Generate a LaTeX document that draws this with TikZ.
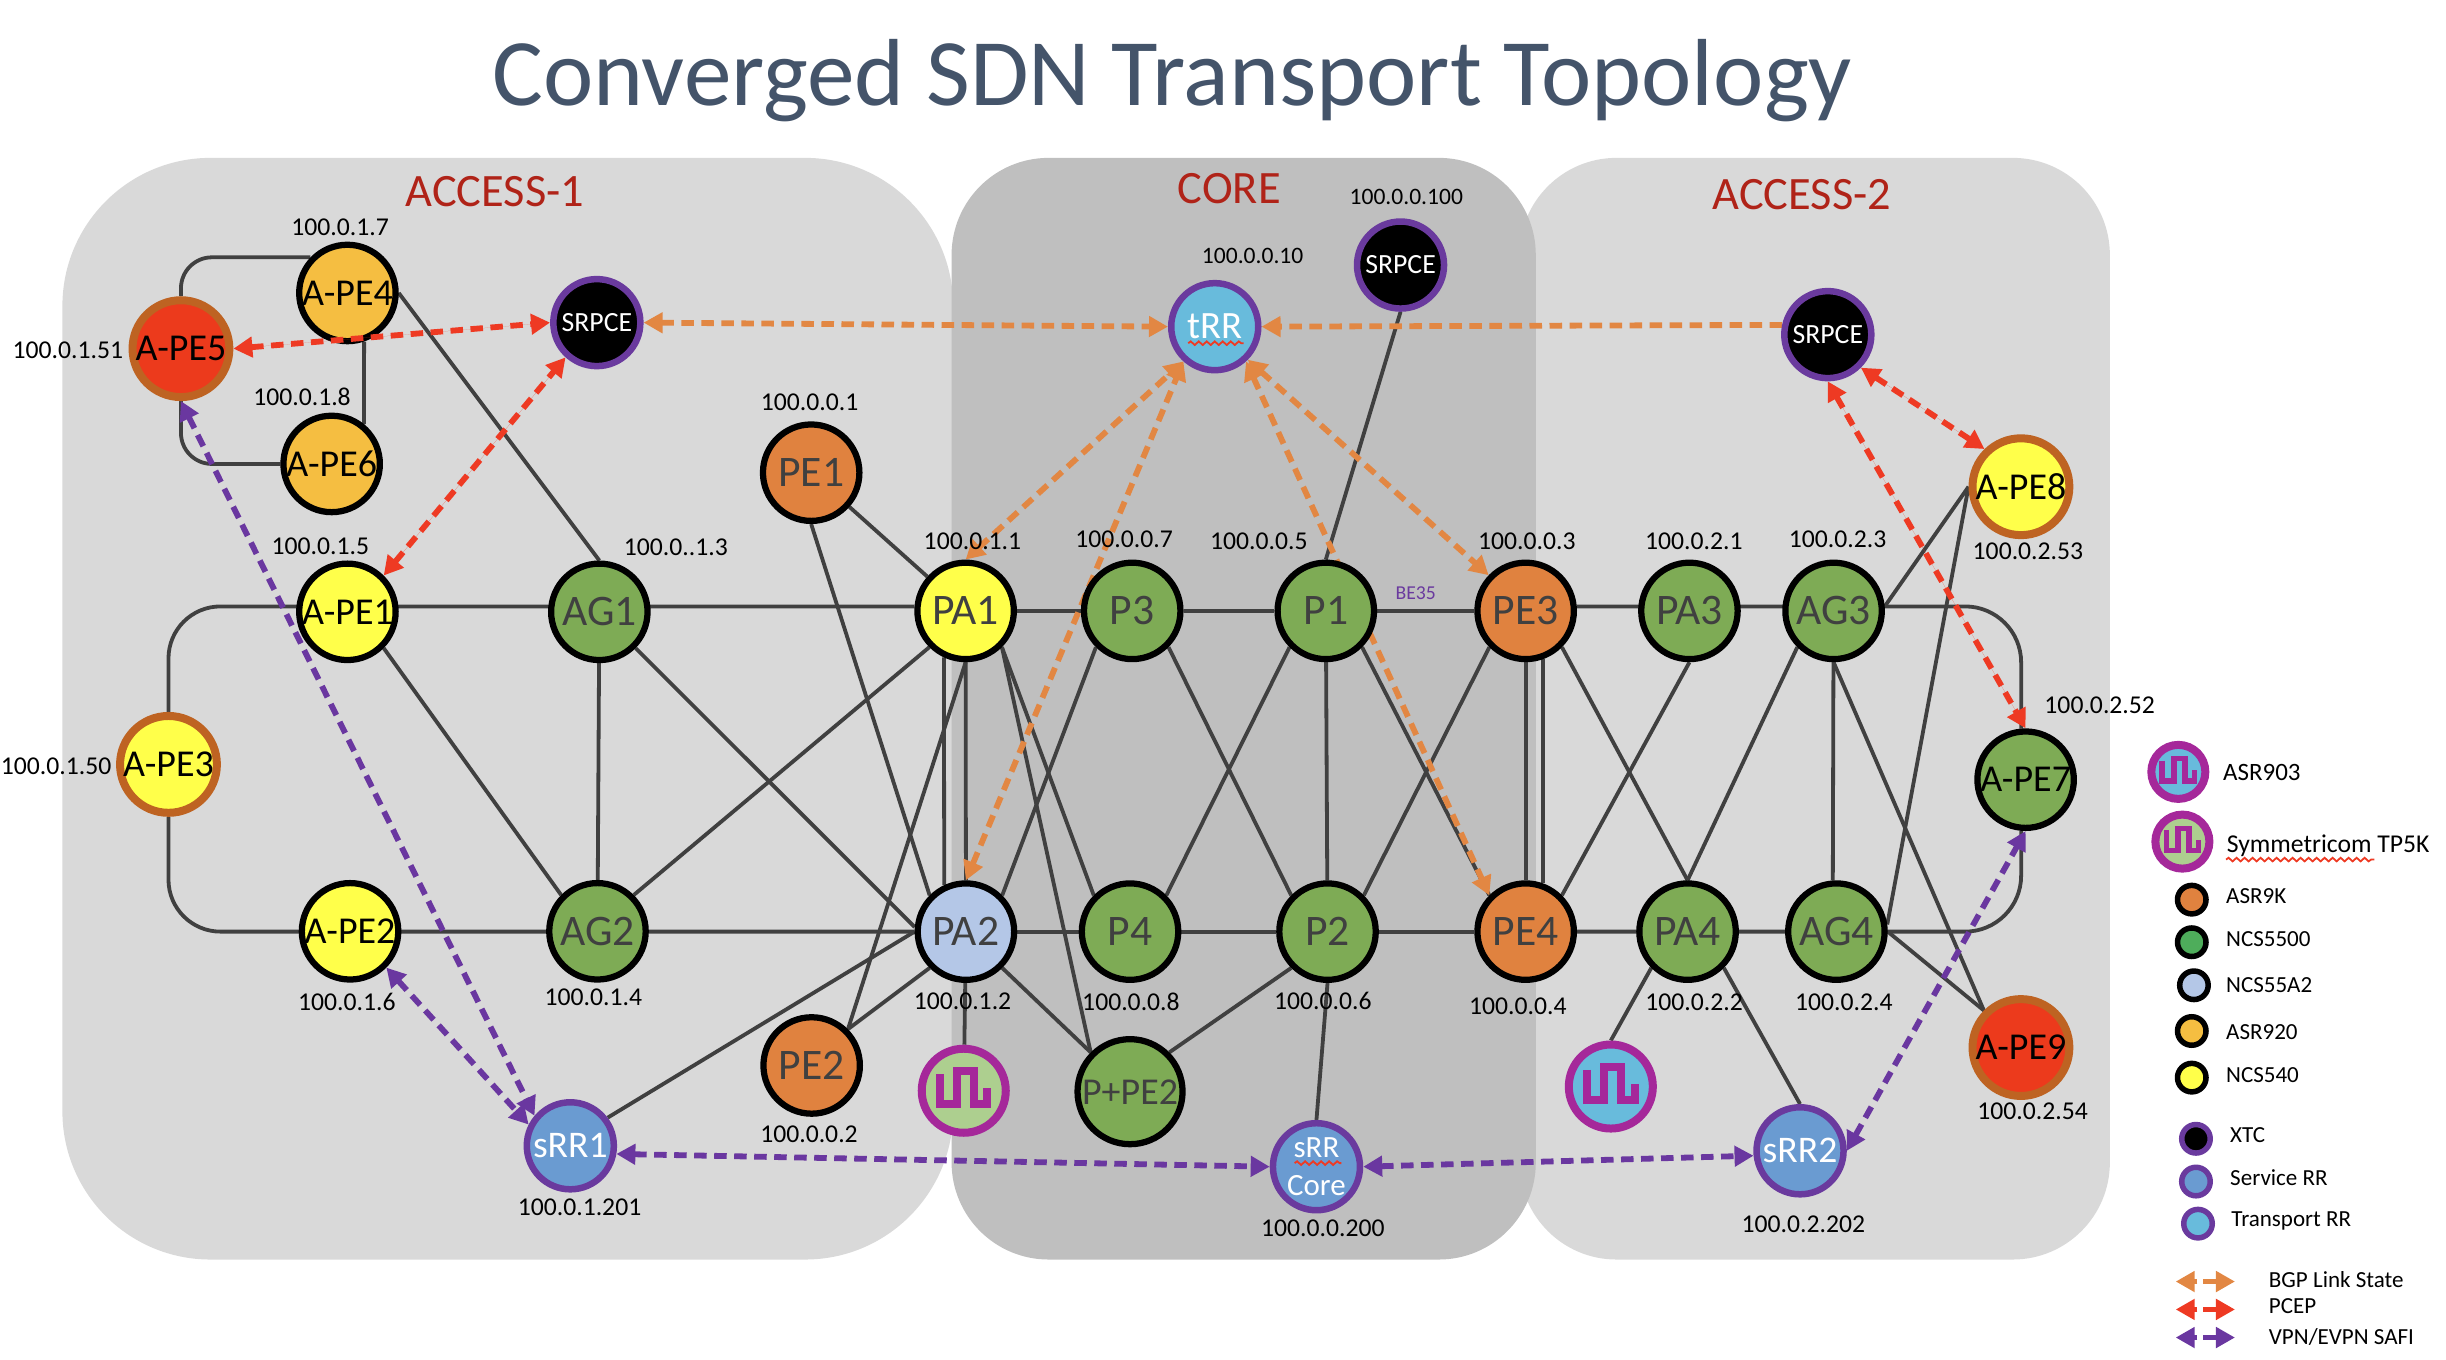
\documentclass[tikz,border=0pt]{standalone}
\usepackage{fontspec}
\setmainfont{Carlito}
\usepackage{xcolor}
\usetikzlibrary{arrows.meta,decorations.pathmorphing}
\definecolor{wire}{HTML}{404040}
\definecolor{panelA}{HTML}{D9D9D9}
\definecolor{panelC}{HTML}{BFBFBF}
\definecolor{headcol}{HTML}{44546A}
\definecolor{zonecol}{HTML}{B02318}
\definecolor{ngreen}{HTML}{7EAB55}
\definecolor{norange}{HTML}{E0823F}
\definecolor{nyellow}{HTML}{FFFF4A}
\definecolor{namber}{HTML}{F5BE41}
\definecolor{nred}{HTML}{EC3A1C}
\definecolor{nbrown}{HTML}{BE6322}
\definecolor{nsteel}{HTML}{B4C7E7}
\definecolor{nblue}{HTML}{6A9BD1}
\definecolor{ncyan}{HTML}{68BBDC}
\definecolor{npurple}{HTML}{6A3A9E}
\definecolor{nmagenta}{HTML}{A5289A}
\definecolor{nlime}{HTML}{ADCF8F}
\definecolor{nmint}{HTML}{4EAD5B}
\definecolor{dorange}{HTML}{E28743}
\definecolor{dred}{HTML}{EE3A23}
\definecolor{dpurple}{HTML}{6A37A0}
\pgfdeclarelayer{panels}
\pgfdeclarelayer{links}
\pgfsetlayers{panels,links,main}
\newcommand{\clockwave}[3]{\draw [nmagenta,line width=#3,shift={(#1)},scale=#2] (-15.2,-10.7) -- (-15.2,8.5) -- (-4.3,8.5) -- (-4.3,-12.4) -- (6.3,-12.4) -- (6.3,8.5) -- (15.2,8.5) -- (15.2,-1.5);}

\begin{document}
\begin{tikzpicture}[x=0.0156cm,y=-0.0156cm]
\tikzstyle{every node}+=[inner sep=0pt]
\tikzstyle{router}=[circle,draw=black,line width=0.0625cm,minimum size=0.964cm,text=wire,font=\fontsize{12.4}{13}\selectfont]
\tikzstyle{greenr}=[router,fill=ngreen]
\tikzstyle{oranger}=[router,fill=norange]
\tikzstyle{yellowr}=[router,fill=nyellow]
\tikzstyle{steelr}=[router,fill=nsteel]
\tikzstyle{small}=[text=black,font=\fontsize{10.8}{11}\selectfont]
\tikzstyle{edger}=[small,line width=0.08cm,draw=nbrown,minimum size=0.968cm]
\tikzstyle{rr}=[circle,draw=npurple,line width=0.065cm,minimum size=0.87cm,text=white,font=\fontsize{10.7}{11}\selectfont]
\tikzstyle{xtc}=[rr,fill=black,font=\fontsize{7.9}{9}\selectfont]
\tikzstyle{clock}=[circle,draw=nmagenta,line width=0.08cm,minimum size=0.84cm]
\tikzstyle{keyclock}=[circle,draw=nmagenta,line width=0.08cm,minimum size=0.54cm]
\tikzstyle{keydot}=[circle,draw=black,line width=0.055cm,minimum size=0.285cm]
\tikzstyle{keyrr}=[keydot,draw=npurple]
\tikzstyle{ipaddr}=[text=black,font=\fontsize{7.3}{8}\selectfont]
\tikzstyle{ipsmall}=[text=black,font=\fontsize{6.7}{8}\selectfont]
\tikzstyle{zone}=[text=zonecol,font=\fontsize{13.2}{14}\selectfont]
\tikzstyle{keytext}=[anchor=west,text=black,font=\fontsize{6.55}{7}\selectfont]
\tikzstyle{lnk}=[draw=wire,line width=0.038cm]
\tikzstyle{bgp}=[draw=dorange,line width=0.058cm,dash pattern=on 0.125cm off 0.075cm,>={Triangle[length=0.19cm,width=0.2cm]}]
\tikzstyle{pcep}=[bgp,draw=dred,fill=dred]
\tikzstyle{safi}=[bgp,draw=dpurple]
\tikzstyle{keybar}=[line width=0.055cm,>={Triangle[length=0.19cm,width=0.2cm]}]
\tikzstyle{spell}=[draw=dred,line width=0.018cm,decorate,decoration={snake,amplitude=0.018cm,segment length=0.08cm}]
\useasboundingbox (0,0) rectangle (1568,871.8);
\begin{pgfonlayer}{panels}
\fill [panelA,rounded corners=1.48cm] (40,101.2) rectangle (611,807.4);
\fill [panelA,rounded corners=0.97cm] (974,101.2) rectangle (1352.5,807.4);
\fill [panelC,rounded corners=0.97cm] (610,101.2) rectangle (984.5,807.4);
\end{pgfonlayer}
\draw (751.5,51.5) node [text=headcol,font=\fontsize{27.1}{30}\selectfont] (heading) {Converged SDN Transport Topology};
\draw (317.2,122.5) node [zone] (zoneA) {ACCESS-1};
\draw (788,121.1) node [zone] (zoneC) {CORE};
\draw (1155,124.5) node [zone] (zoneB) {ACCESS-2};
\draw (222.7,187.8) node [router,small,fill=namber] (APE4) {A-PE4};
\draw (116,223.5) node [router,edger,fill=nred] (APE5) {A-PE5};
\draw (212.6,297.4) node [router,small,fill=namber] (APE6) {A-PE6};
\draw (382.6,206.8) node [xtc] (SRPleft) {SRPCE};
\draw (222.7,392.2) node [router,small,fill=nyellow] (APE1) {A-PE1};
\draw (384.2,392.2) node [greenr] (AG1) {AG1};
\draw (108,490) node [router,edger,fill=nyellow] (APE3) {A-PE3};
\draw (224.4,597) node [router,small,fill=nyellow] (APE2) {A-PE2};
\draw (383,597) node [greenr] (AG2) {AG2};
\draw (520,303) node [oranger] (PE1) {PE1};
\draw (520.3,683) node [oranger] (PE2) {PE2};
\draw (619,391.6) node [yellowr] (PA1) {PA1};
\draw (725.8,391.6) node [greenr] (P3) {P3};
\draw (849.9,391.6) node [greenr] (P1) {P1};
\draw (978,391.6) node [oranger] (PE3) {PE3};
\draw (1083,391.6) node [greenr] (PA3) {PA3};
\draw (1175.4,391.6) node [greenr] (AG3) {AG3};
\draw (619.2,597.2) node [steelr] (PA2) {PA2};
\draw (724.4,597.2) node [greenr] (P4) {P4};
\draw (851,597.2) node [greenr] (P2) {P2};
\draw (978,597.2) node [oranger] (PE4) {PE4};
\draw (1081.8,597.2) node [greenr] (PA4) {PA4};
\draw (1177.2,597.2) node [greenr] (AG4) {AG4};
\draw (724.4,699.8) node [router,small,fill=ngreen,text=wire,minimum size=1.05cm] (PPE2) {P+PE2};
\draw (1295.5,312) node [router,edger,fill=nyellow] (APE8) {A-PE8};
\draw (1298.5,499.8) node [router,small,fill=ngreen] (APE7) {A-PE7};
\draw (1295.5,671.5) node [router,edger,fill=nred] (APE9) {A-PE9};
\draw (778.7,209.4) node [rr,fill=ncyan,font=\fontsize{11}{12}\selectfont] (tRR) {tRR};
\draw (897.8,169.9) node [xtc] (SRPtop) {SRPCE};
\draw (1171.7,214.5) node [xtc] (SRPright) {SRPCE};
\draw (365.6,734.5) node [rr,fill=nblue] (sRRone) {sRR1};
\draw (843.9,747.9) node [rr,fill=nblue,align=center,font=\fontsize{8.8}{11}\selectfont] (sRRcore) {sRR\\Core};
\draw (1153.9,737.7) node [rr,fill=nblue] (sRRtwo) {sRR2};
\draw (617.8,699.2) node [clock,fill=nlime] (clockA) {};
\draw (1032.6,696.5) node [clock,fill=ncyan] (clockB) {};
\clockwave{clockA}{1}{0.08cm}
\clockwave{clockB}{1}{0.08cm}
\draw [spell] ([shift={(-17,10.6)}]tRR.center) -- ([shift={(18.5,10.6)}]tRR.center);
\draw [spell] ([shift={(-14,-2.3)}]sRRcore.center) -- ([shift={(16,-2.3)}]sRRcore.center);
\draw (218,145.4) node [ipaddr] (ipAPE4) {100.0.1.7};
\draw (43.5,224.7) node [ipaddr] (ipAPE5) {100.0.1.51};
\draw (193.6,254.5) node [ipaddr] (ipAPE6) {100.0.1.8};
\draw (205.4,350.3) node [ipaddr] (ipAPE1) {100.0.1.5};
\draw (433.3,350.9) node [ipaddr] (ipAG1) {100.0..1.3};
\draw (36,491) node [ipaddr] (ipAPE3) {100.0.1.50};
\draw (222.4,642.5) node [ipaddr] (ipAPE2) {100.0.1.6};
\draw (380.4,639.6) node [ipaddr] (ipAG2) {100.0.1.4};
\draw (519,258) node [ipaddr] (ipPE1) {100.0.0.1};
\draw (518.6,727) node [ipaddr] (ipPE2) {100.0.0.2};
\draw (371.5,773.7) node [ipaddr] (ipsRRone) {100.0.1.201};
\draw (623.4,346.7) node [ipaddr] (ipPA1) {100.0.1.1};
\draw (720.6,345.8) node [ipaddr] (ipPthree) {100.0.0.7};
\draw (807,347) node [ipaddr] (ipPone) {100.0.0.5};
\draw (978.8,346.7) node [ipaddr] (ipPE3) {100.0.0.3};
\draw (803,164) node [ipsmall] (iptRR) {100.0.0.10};
\draw (901.5,126) node [ipsmall] (ipSRPtop) {100.0.0.100};
\draw (617,642) node [ipaddr] (ipPA2) {100.0.1.2};
\draw (725,642) node [ipaddr] (ipPfour) {100.0.0.8};
\draw (848,641.7) node [ipaddr] (ipPtwo) {100.0.0.6};
\draw (973,645) node [ipaddr] (ipPE4) {100.0.0.4};
\draw (848,787.3) node [ipaddr] (ipsRRcore) {100.0.0.200};
\draw (1085.8,346.7) node [ipaddr] (ipPA3) {100.0.2.1};
\draw (1178,345.8) node [ipaddr] (ipAG3) {100.0.2.3};
\draw (1300,353.3) node [ipaddr] (ipAPE8) {100.0.2.53};
\draw (1346,452) node [ipaddr] (ipAPE7) {100.0.2.52};
\draw (1086,642.4) node [ipaddr] (ipPA4) {100.0.2.2};
\draw (1182,642.4) node [ipaddr] (ipAG4) {100.0.2.4};
\draw (1303,712.4) node [ipaddr] (ipAPE9) {100.0.2.54};
\draw (1156,784.8) node [ipaddr] (ipsRRtwo) {100.0.2.202};
\draw (907.5,380) node [text=npurple,font=\fontsize{5.6}{6}\selectfont] (bundle) {BE35};
\begin{pgfonlayer}{links}
\draw [lnk,rounded corners=0.31cm] (APE5.north) |- (APE4.136);
\draw [lnk,rounded corners=0.31cm] (APE5.south) |- (APE6.west);
\draw [lnk] (APE4.-71) -- (APE6.51);
\draw [lnk] (APE4.east) -- (AG1.north);
\draw [lnk,rounded corners=0.52cm] (APE3.north) |- (PA1.175);
\draw [lnk,rounded corners=0.52cm] (APE3.south) |- (PA2.west);
\draw [lnk] (APE1.-45) -- (AG2.135);
\draw [lnk] (AG1) -- (AG2);
\draw [lnk] (AG1.-45) -- (PA2.175);
\draw [lnk] (AG2.45) -- (PA1.225);
\draw [lnk] (PE1) -- (PA1);
\draw [lnk] (PE1.south) -- (PA2.135);
\draw [lnk] (PE2.45) -- (PA1.south);
\draw [lnk] (PE2.45) -- (PA2.225);
\draw [lnk] (sRRone.37) -- (PA2.west);
\draw [lnk] (PA1.245) -- (PA2.115);
\draw [lnk] (PA1.south) -- (PA2.north);
\draw [lnk] (PA1.-45) -- (P4.135);
\draw [lnk] (PA1.-45) -- (PPE2.135);
\draw [lnk] (PA2.-45) -- (PPE2.135);
\draw [lnk] (PA2.45) -- (P3.225);
\draw [lnk] (PA1) -- (P3);
\draw [lnk] (P3) -- (P1);
\draw [lnk] (P1) -- (PE3);
\draw [lnk] (PA2) -- (P4);
\draw [lnk] (P4) -- (P2);
\draw [lnk] (P2) -- (PE4);
\draw [lnk] (P3.-45) -- (P2.135);
\draw [lnk] (P1.225) -- (P4.45);
\draw [lnk] (P1) -- (P2);
\draw [lnk] (P1.-45) -- (PE4.135);
\draw [lnk] (PE3.225) -- (P2.45);
\draw [lnk] (PE3) -- (PE4);
\draw [lnk] (PE3.-70) -- (PE4.70);
\draw [lnk] (P2.225) -- (PPE2.45);
\draw [lnk] (PA2) -- (clockA);
\draw [lnk] (P2.south) -- (sRRcore.north);
\draw [lnk] (P1.north) -- (SRPtop.south);
\draw [lnk,rounded corners=0.56cm] (PE3.5) -| (APE7.95);
\draw [lnk,rounded corners=0.56cm] (PE4.east) -| (APE7.-95);
\draw [lnk] (PE3.-45) -- (PA4.north);
\draw [lnk] (PE4.45) -- (PA3.south);
\draw [lnk] (AG3.225) -- (PA4.north);
\draw [lnk] (AG3) -- (AG4.94);
\draw [lnk] (AG3.south) -- (APE9.135);
\draw [lnk] (AG4.east) -- (APE9.135);
\draw [lnk] (AG3.5) -- (APE8.west);
\draw [lnk] (AG4.8) -- (APE8.west);
\draw [lnk] (PA4.225) -- (clockB.north);
\draw [lnk] (PA4.-45) -- (sRRtwo.north);
\draw [bgp,<->] (SRPleft.east) -- (tRR.west);
\draw [bgp,->] (SRPright.168) -- (tRR.east);
\draw [bgp,<->] (PA1.north) -- (tRR.228);
\draw [bgp,<->] (PA2.north) -- (tRR.228);
\draw [bgp,<->] (tRR.-48) -- (PE4.135);
\draw [bgp,<->] (tRR.-45) -- (PE3.136);
\draw [pcep,<->] (APE1.45) -- (SRPleft.228);
\draw [pcep,<->] (SRPright.-45) -- (APE8.134);
\draw [pcep,<->] (SRPright.south) -- (APE7.north);
\draw [safi,<->] (APE5.south) -- (sRRone.140);
\draw [safi,<->] (APE2.-45) -- (sRRone.153);
\draw [safi,<->] (sRRone.-10) -- (sRRcore.west);
\draw [safi,<->] (sRRcore.east) -- (sRRtwo.186);
\draw [safi,<->] (sRRtwo.east) -- (APE7.south);
\end{pgfonlayer}
\draw [pcep,<->] (APE5.east) -- (SRPleft.west);
\draw (1396.4,494.8) node [keyclock,fill=ncyan] (keyA) {};
\draw (1399,539.5) node [keyclock,fill=nlime] (keyB) {};
\clockwave{keyA}{0.68}{0.055cm}
\clockwave{keyB}{0.68}{0.055cm}
\draw (1424.7,495.5) node [keytext,font=\fontsize{7.1}{8}\selectfont] (txtA) {ASR903};
\draw (1427,542) node [keytext,font=\fontsize{7.3}{8}\selectfont] (txtB) {Symmetricom TP5K};
\draw [spell] ([shift={(0,9)}]txtB.west) -- ([shift={(95,9)}]txtB.west);
\draw (1405,576.7) node [keydot,fill=norange] (dotC) {};
\draw (1405,604) node [keydot,fill=nmint] (dotD) {};
\draw (1406.4,631.6) node [keydot,fill=nsteel] (dotE) {};
\draw (1405,660.9) node [keydot,fill=namber] (dotF) {};
\draw (1405,690.8) node [keydot,fill=nyellow] (dotG) {};
\draw (1407.7,730) node [keyrr,fill=black] (dotH) {};
\draw (1407.7,757.4) node [keyrr,fill=nblue] (dotI) {};
\draw (1409,784.4) node [keyrr,fill=ncyan] (dotJ) {};
\draw (1426.6,574.5) node [keytext] (txtC) {ASR9K};
\draw (1426.6,602) node [keytext] (txtD) {NCS5500};
\draw (1426.6,631.5) node [keytext] (txtE) {NCS55A2};
\draw (1426.6,661.5) node [keytext] (txtF) {ASR920};
\draw (1426.6,689.2) node [keytext] (txtG) {NCS540};
\draw (1429.2,727.5) node [keytext] (txtH) {XTC};
\draw (1429.2,755) node [keytext] (txtI) {Service RR};
\draw (1430,782.5) node [keytext] (txtJ) {Transport RR};
\draw (1454,820.5) node [keytext] (txtK) {BGP Link State};
\draw (1454,837.2) node [keytext] (txtL) {PCEP};
\draw (1454,857) node [keytext] (txtM) {VPN/EVPN SAFI};
\coordinate (barKa) at (1408.6,821.5);
\coordinate (barKb) at (1412.4,821.5);
\coordinate (barKc) at (1394.7,821.5);
\coordinate (barKd) at (1432.7,821.5);
\coordinate (barLa) at (1408.6,839.4);
\coordinate (barLb) at (1412.4,839.4);
\coordinate (barLc) at (1394.7,839.4);
\coordinate (barLd) at (1432.7,839.4);
\coordinate (barMa) at (1408.6,857.4);
\coordinate (barMb) at (1412.4,857.4);
\coordinate (barMc) at (1394.7,857.4);
\coordinate (barMd) at (1432.7,857.4);
\draw [keybar,dorange,->] (barKa) -- (barKc);
\draw [keybar,dorange,->] (barKb) -- (barKd);
\draw [keybar,dred,->] (barLa) -- (barLc);
\draw [keybar,dred,->] (barLb) -- (barLd);
\draw [keybar,dpurple,->] (barMa) -- (barMc);
\draw [keybar,dpurple,->] (barMb) -- (barMd);
\end{tikzpicture}
\end{document}
